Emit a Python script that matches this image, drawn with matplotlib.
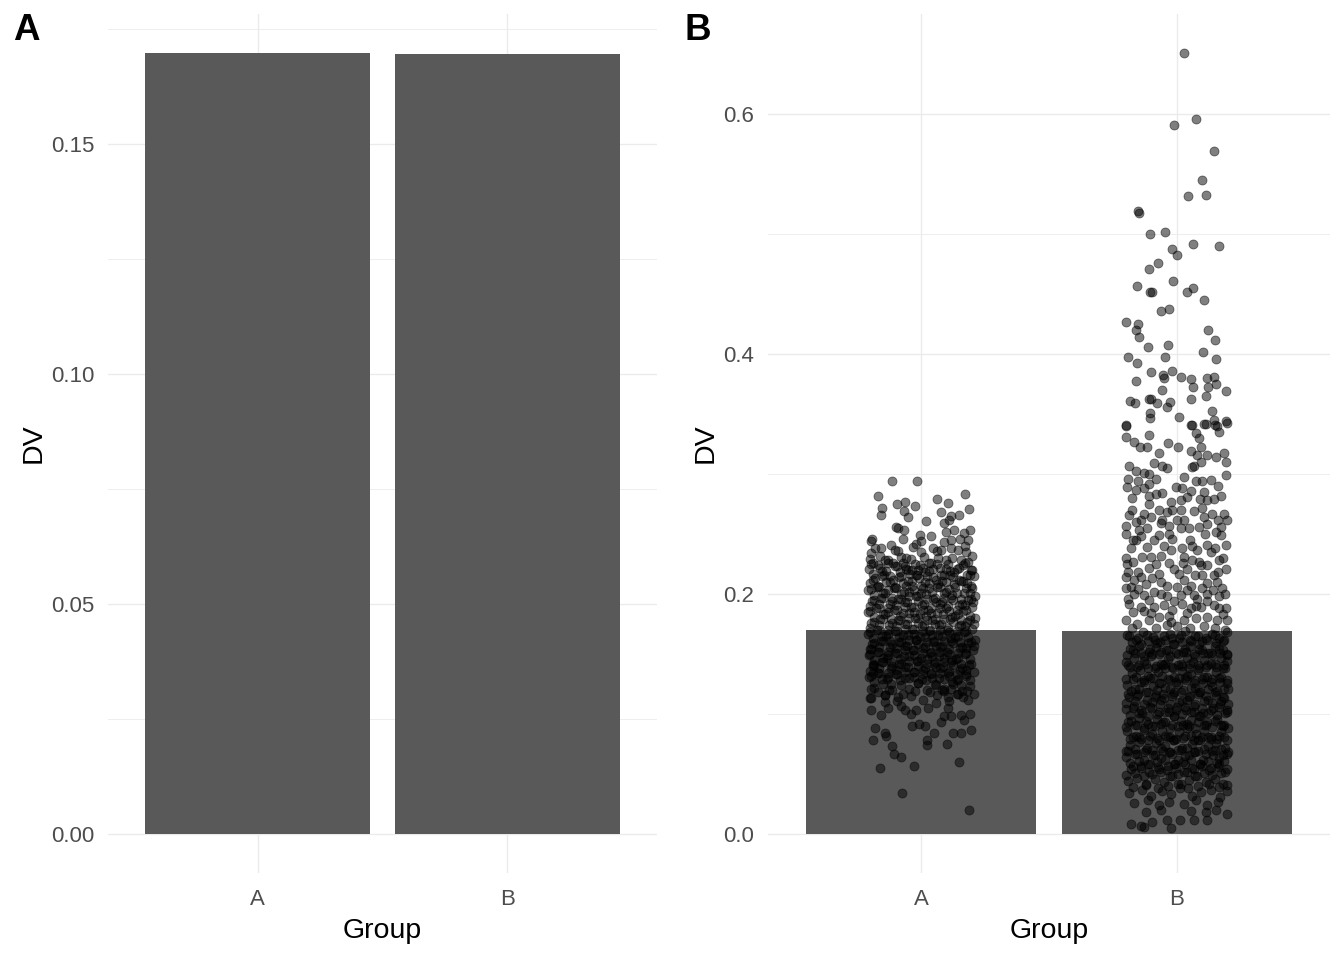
import matplotlib.pyplot as plt
import numpy as np

plt.rcParams['font.family'] = ['Liberation Sans', 'DejaVu Sans']

groups = ["A", "B"]
bar_means = [0.1698, 0.1696]

# jittered raw points, as (horizontal jitter, DV)
a_points = [
	# upper tail
	(-0.114, 0.294), (-0.017, 0.294), (-0.169, 0.282), (-0.154, 0.272), (-0.156, 0.266), (-0.095, 0.275),
	(-0.065, 0.277), (-0.069, 0.269), (-0.026, 0.273), (-0.052, 0.264), (0.062, 0.279), (0.104, 0.276),
	(0.173, 0.283), (0.185, 0.271), (0.146, 0.266), (0.078, 0.268), (0.117, 0.265), (0.107, 0.262),
	(0.091, 0.259), (0.098, 0.252), (0.019, 0.261), (-0.091, 0.255), (-0.069, 0.253), (-0.098, 0.256),
	(-0.193, 0.246), (-0.198, 0.244), (-0.072, 0.246), (-0.003, 0.249), (0.000, 0.244), (0.039, 0.248),
	(0.117, 0.245), (0.150, 0.246), (0.182, 0.245), (0.189, 0.253), (0.169, 0.251), (0.130, 0.253),
	(-0.182, 0.238), (-0.156, 0.238), (-0.117, 0.241), (-0.104, 0.237), (-0.078, 0.231), (-0.059, 0.230),
	(-0.033, 0.239), (0.000, 0.235), (0.046, 0.238), (0.078, 0.237), (0.117, 0.238), (0.143, 0.237),
	(0.176, 0.235), (-0.195, 0.234), (-0.189, 0.226), (-0.143, 0.228), (-0.111, 0.226), (-0.065, 0.223),
	(-0.013, 0.220), (0.032, 0.226), (0.065, 0.230), (0.098, 0.228), (0.156, 0.228), (0.195, 0.220),
	(0.182, 0.227), (-0.200, 0.229), (-0.160, 0.232), (-0.130, 0.228), (-0.090, 0.236), (-0.040, 0.229),
	(0.010, 0.231), (0.060, 0.236), (0.120, 0.230), (0.170, 0.240), (0.200, 0.232), (-0.020, 0.242),
	(0.090, 0.243),
	# dense core
	(-0.205, 0.221), (-0.170, 0.224), (-0.138, 0.219), (-0.101, 0.223), (-0.072, 0.226), (-0.035, 0.220),
	(-0.004, 0.224), (0.031, 0.219), (0.062, 0.225), (0.097, 0.221), (0.129, 0.218), (0.163, 0.224), (0.198, 0.220),
	(-0.196, 0.225), (-0.162, 0.222), (-0.129, 0.226), (-0.094, 0.223), (-0.060, 0.221), (-0.026, 0.225),
	(0.007, 0.222), (0.040, 0.226), (0.073, 0.222), (0.106, 0.225), (0.140, 0.221), (0.173, 0.226),
	(-0.188, 0.217), (-0.154, 0.219), (-0.121, 0.215), (-0.085, 0.218), (-0.052, 0.220), (-0.018, 0.216),
	(0.015, 0.218), (0.047, 0.221), (0.079, 0.216), (0.114, 0.219), (0.146, 0.222), (0.180, 0.216),
	(-0.182, 0.213), (-0.146, 0.216), (-0.112, 0.212), (-0.078, 0.215), (-0.044, 0.217), (-0.010, 0.213),
	(0.024, 0.215), (0.058, 0.212), (0.090, 0.216), (0.123, 0.214), (0.157, 0.211), (0.192, 0.216),
	(-0.190, 0.212), (-0.155, 0.215), (-0.121, 0.210), (-0.088, 0.214), (-0.052, 0.211), (-0.019, 0.216),
	(0.014, 0.210), (0.047, 0.214), (0.080, 0.211), (0.113, 0.216), (0.147, 0.212), (0.181, 0.209), (0.208, 0.215),
	(-0.199, 0.209), (-0.171, 0.207), (-0.137, 0.210), (-0.104, 0.206), (-0.070, 0.209), (-0.036, 0.211),
	(-0.001, 0.207), (0.031, 0.209), (0.063, 0.206), (0.096, 0.210), (0.130, 0.208), (0.164, 0.211), (0.196, 0.207),
	(-0.198, 0.204), (-0.164, 0.206), (-0.131, 0.203), (-0.097, 0.205), (-0.061, 0.207), (-0.028, 0.203),
	(0.006, 0.205), (0.041, 0.202), (0.074, 0.206), (0.107, 0.204), (0.141, 0.201), (0.176, 0.205),
	(-0.208, 0.203), (-0.173, 0.206), (-0.140, 0.201), (-0.106, 0.205), (-0.069, 0.202), (-0.037, 0.207),
	(-0.002, 0.201), (0.029, 0.205), (0.065, 0.208), (0.098, 0.202), (0.131, 0.206), (0.166, 0.201), (0.199, 0.205),
	(-0.183, 0.199), (-0.149, 0.201), (-0.116, 0.197), (-0.081, 0.200), (-0.047, 0.202), (-0.011, 0.198),
	(0.020, 0.200), (0.055, 0.197), (0.089, 0.201), (0.121, 0.199), (0.156, 0.196), (0.190, 0.201),
	(-0.184, 0.195), (-0.150, 0.197), (-0.114, 0.194), (-0.080, 0.196), (-0.046, 0.198), (-0.012, 0.194),
	(0.021, 0.196), (0.057, 0.193), (0.091, 0.197), (0.124, 0.195), (0.158, 0.192), (0.194, 0.196),
	(-0.193, 0.194), (-0.158, 0.197), (-0.123, 0.192), (-0.090, 0.196), (-0.055, 0.193), (-0.021, 0.198),
	(0.012, 0.192), (0.045, 0.196), (0.082, 0.193), (0.115, 0.197), (0.149, 0.191), (0.183, 0.195), (0.210, 0.198),
	(-0.201, 0.190), (-0.166, 0.192), (-0.132, 0.188), (-0.098, 0.191), (-0.064, 0.193), (-0.030, 0.189),
	(0.004, 0.191), (0.038, 0.188), (0.072, 0.192), (0.105, 0.190), (0.139, 0.187), (0.172, 0.191), (0.203, 0.193),
	(-0.200, 0.186), (-0.166, 0.188), (-0.131, 0.185), (-0.096, 0.187), (-0.062, 0.189), (-0.028, 0.185),
	(0.006, 0.187), (0.040, 0.184), (0.074, 0.188), (0.108, 0.186), (0.142, 0.183), (0.176, 0.187),
	(-0.210, 0.185), (-0.176, 0.188), (-0.141, 0.183), (-0.108, 0.187), (-0.073, 0.184), (-0.039, 0.189),
	(-0.006, 0.183), (0.027, 0.187), (0.063, 0.184), (0.096, 0.188), (0.133, 0.182), (0.165, 0.186), (0.197, 0.189),
	(-0.186, 0.181), (-0.151, 0.183), (-0.117, 0.179), (-0.083, 0.182), (-0.048, 0.184), (-0.014, 0.180),
	(0.019, 0.182), (0.053, 0.179), (0.087, 0.183), (0.121, 0.181), (0.156, 0.178), (0.189, 0.182),
	(-0.185, 0.177), (-0.150, 0.179), (-0.116, 0.176), (-0.082, 0.178), (-0.047, 0.180), (-0.013, 0.176),
	(0.021, 0.178), (0.055, 0.175), (0.089, 0.179), (0.123, 0.177), (0.157, 0.174), (0.192, 0.178),
	(-0.195, 0.176), (-0.160, 0.179), (-0.125, 0.174), (-0.092, 0.178), (-0.057, 0.175), (-0.023, 0.180),
	(0.010, 0.174), (0.043, 0.178), (0.079, 0.175), (0.112, 0.179), (0.148, 0.173), (0.181, 0.177), (0.211, 0.180),
	(-0.202, 0.172), (-0.167, 0.174), (-0.132, 0.170), (-0.099, 0.173), (-0.065, 0.175), (-0.030, 0.171),
	(0.003, 0.173), (0.036, 0.170), (0.071, 0.174), (0.104, 0.172), (0.139, 0.169), (0.173, 0.173), (0.205, 0.175),
	(-0.199, 0.168), (-0.164, 0.170), (-0.130, 0.167), (-0.096, 0.169), (-0.062, 0.171), (-0.027, 0.167),
	(0.007, 0.169), (0.041, 0.166), (0.075, 0.170), (0.109, 0.168), (0.143, 0.165), (0.176, 0.169),
	(-0.207, 0.167), (-0.174, 0.170), (-0.139, 0.165), (-0.104, 0.169), (-0.071, 0.166), (-0.037, 0.171),
	(-0.003, 0.165), (0.030, 0.169), (0.066, 0.166), (0.099, 0.170), (0.132, 0.164), (0.167, 0.168), (0.200, 0.171),
	(-0.189, 0.163), (-0.155, 0.165), (-0.121, 0.161), (-0.087, 0.164), (-0.053, 0.166), (-0.019, 0.162),
	(0.015, 0.164), (0.049, 0.161), (0.083, 0.165), (0.116, 0.163), (0.150, 0.160), (0.184, 0.164),
	(-0.184, 0.159), (-0.149, 0.161), (-0.115, 0.158), (-0.081, 0.160), (-0.046, 0.162), (-0.012, 0.158),
	(0.022, 0.160), (0.056, 0.157), (0.090, 0.161), (0.124, 0.159), (0.158, 0.156), (0.193, 0.160),
	(-0.192, 0.158), (-0.157, 0.161), (-0.122, 0.156), (-0.089, 0.160), (-0.054, 0.157), (-0.020, 0.162),
	(0.013, 0.156), (0.046, 0.160), (0.083, 0.157), (0.116, 0.161), (0.151, 0.155), (0.184, 0.159), (0.209, 0.162),
	(-0.199, 0.154), (-0.165, 0.156), (-0.131, 0.152), (-0.097, 0.155), (-0.062, 0.157), (-0.028, 0.153),
	(0.006, 0.155), (0.040, 0.152), (0.075, 0.156), (0.108, 0.154), (0.142, 0.151), (0.177, 0.155), (0.206, 0.157),
	(-0.199, 0.150), (-0.164, 0.152), (-0.130, 0.149), (-0.096, 0.151), (-0.062, 0.153), (-0.027, 0.149),
	(0.007, 0.151), (0.041, 0.148), (0.075, 0.152), (0.109, 0.150), (0.143, 0.147), (0.177, 0.151),
	(-0.206, 0.149), (-0.171, 0.152), (-0.136, 0.147), (-0.103, 0.151), (-0.068, 0.148), (-0.034, 0.153),
	(0.000, 0.147), (0.033, 0.151), (0.068, 0.148), (0.101, 0.152), (0.136, 0.146), (0.170, 0.150), (0.202, 0.153),
	(-0.185, 0.145), (-0.150, 0.147), (-0.117, 0.143), (-0.082, 0.146), (-0.047, 0.148), (-0.013, 0.144),
	(0.021, 0.146), (0.055, 0.143), (0.089, 0.147), (0.122, 0.145), (0.157, 0.142), (0.191, 0.146),
	(-0.184, 0.141), (-0.149, 0.143), (-0.115, 0.140), (-0.081, 0.142), (-0.046, 0.144), (-0.012, 0.140),
	(0.022, 0.142), (0.056, 0.139), (0.090, 0.143), (0.124, 0.141), (0.158, 0.138), (0.193, 0.142),
	(-0.190, 0.140), (-0.155, 0.143), (-0.120, 0.138), (-0.087, 0.142), (-0.051, 0.139), (-0.017, 0.144),
	(0.016, 0.138), (0.050, 0.142), (0.085, 0.139), (0.118, 0.143), (0.153, 0.137), (0.186, 0.141),
	(-0.200, 0.136), (-0.166, 0.138), (-0.132, 0.134), (-0.097, 0.137), (-0.063, 0.139), (-0.029, 0.135),
	(0.005, 0.137), (0.040, 0.134), (0.073, 0.138), (0.107, 0.136), (0.141, 0.133), (0.175, 0.137),
	(-0.198, 0.132), (-0.164, 0.134), (-0.130, 0.131), (-0.096, 0.133), (-0.062, 0.135), (-0.027, 0.131),
	(0.007, 0.133), (0.041, 0.130), (0.075, 0.134), (0.109, 0.132), (0.143, 0.129), (0.177, 0.133),
	(-0.204, 0.131), (-0.168, 0.134), (-0.133, 0.129), (-0.099, 0.133), (-0.064, 0.130), (-0.030, 0.135),
	(0.004, 0.129), (0.037, 0.133), (0.071, 0.130), (0.105, 0.134), (0.139, 0.128), (0.174, 0.132), (0.205, 0.135),
	(-0.186, 0.127), (-0.152, 0.129), (-0.117, 0.125), (-0.083, 0.128), (-0.048, 0.130), (-0.014, 0.126),
	(0.020, 0.128), (0.054, 0.125), (0.088, 0.129), (0.121, 0.127), (0.155, 0.124), (0.190, 0.128),
	(-0.186, 0.122), (-0.150, 0.125), (-0.116, 0.120), (-0.081, 0.124), (-0.046, 0.121), (-0.012, 0.126),
	(0.022, 0.120), (0.056, 0.124), (0.090, 0.121), (0.124, 0.125), (0.158, 0.119), (0.190, 0.123),
	(-0.170, 0.118), (-0.125, 0.120), (-0.070, 0.117), (-0.025, 0.119), (0.035, 0.118), (0.080, 0.120),
	(0.140, 0.117), (0.180, 0.119),
	(-0.200, 0.113), (-0.140, 0.116), (-0.095, 0.111), (-0.040, 0.115), (0.005, 0.112), (0.060, 0.116),
	(0.110, 0.111), (0.165, 0.114), (0.205, 0.117),
	# lower tail
	(-0.195, 0.154), (-0.189, 0.142), (-0.189, 0.134), (-0.195, 0.121), (-0.195, 0.113), (-0.198, 0.103),
	(-0.156, 0.099), (-0.130, 0.105), (-0.143, 0.110), (-0.078, 0.107), (-0.039, 0.100), (-0.019, 0.103),
	(0.026, 0.105), (0.059, 0.109), (0.104, 0.105), (0.091, 0.098), (0.117, 0.098), (0.078, 0.093),
	(0.156, 0.099), (0.189, 0.100), (0.182, 0.112), (0.195, 0.087), (0.169, 0.095), (0.156, 0.084),
	(0.124, 0.084), (-0.036, 0.090), (-0.007, 0.092), (0.013, 0.090), (0.049, 0.084), (0.023, 0.078),
	(0.023, 0.074), (0.100, 0.075), (-0.180, 0.088), (-0.143, 0.084), (-0.139, 0.082), (-0.189, 0.078),
	(-0.115, 0.073), (-0.107, 0.067), (-0.078, 0.064), (-0.160, 0.055), (-0.029, 0.057), (0.146, 0.060),
	(-0.075, 0.034), (0.186, 0.020), (-0.143, 0.116), (-0.091, 0.114), (-0.065, 0.103), (0.143, 0.117),
	(0.104, 0.114), (0.117, 0.121), (0.091, 0.119),
]

b_points = [
	# upper tail
	(0.030, 0.651), (0.077, 0.596), (-0.009, 0.591), (0.147, 0.569), (0.100, 0.545), (0.046, 0.532),
	(0.116, 0.533), (-0.151, 0.519), (-0.149, 0.518), (-0.103, 0.500), (-0.044, 0.502),
	(0.065, 0.492), (0.167, 0.490), (-0.018, 0.488), (0.000, 0.483), (-0.075, 0.476), (-0.107, 0.471),
	(-0.013, 0.461), (-0.154, 0.457), (-0.105, 0.452), (-0.095, 0.452), (0.065, 0.455), (0.042, 0.452),
	(0.108, 0.445), (-0.061, 0.436), (-0.029, 0.438), (-0.200, 0.427), (-0.150, 0.425), (-0.161, 0.420),
	(-0.148, 0.414), (0.122, 0.420), (0.150, 0.412), (-0.111, 0.406), (-0.036, 0.408), (0.104, 0.402),
	(-0.189, 0.398), (-0.044, 0.398), (0.154, 0.396), (-0.154, 0.393), (-0.099, 0.385), (-0.052, 0.383),
	(-0.048, 0.380), (-0.017, 0.386), (0.018, 0.381), (0.055, 0.379), (0.063, 0.373), (0.117, 0.380),
	(0.145, 0.381), (0.152, 0.375), (0.124, 0.373), (0.194, 0.369), (-0.161, 0.378), (-0.056, 0.370),
	(-0.108, 0.363), (-0.099, 0.363), (-0.182, 0.361), (-0.163, 0.359), (-0.078, 0.359), (-0.027, 0.360),
	(-0.040, 0.356), (0.057, 0.363), (0.115, 0.365), (0.139, 0.353), (-0.103, 0.351), (-0.103, 0.347),
	(0.007, 0.348), (-0.197, 0.340), (0.060, 0.341), (0.108, 0.342), (0.145, 0.345), (0.156, 0.340),
	(0.194, 0.344),
	# middle
	(-0.199, 0.341), (-0.199, 0.331), (-0.169, 0.327), (-0.143, 0.323), (-0.108, 0.333), (-0.115, 0.323),
	(-0.033, 0.326), (0.005, 0.323), (0.057, 0.341), (0.074, 0.334), (0.087, 0.330), (0.096, 0.323),
	(0.113, 0.342), (0.150, 0.341), (0.165, 0.335), (0.195, 0.343), (-0.069, 0.318), (0.055, 0.319),
	(0.081, 0.316), (0.120, 0.316), (0.152, 0.314), (0.185, 0.318), (0.191, 0.310), (-0.186, 0.307),
	(-0.160, 0.303), (-0.130, 0.301), (-0.108, 0.300), (-0.089, 0.309), (-0.056, 0.307), (-0.037, 0.305),
	(0.068, 0.307), (0.094, 0.310), (0.061, 0.306), (0.191, 0.299), (-0.193, 0.289), (-0.160, 0.287),
	(-0.128, 0.288), (-0.108, 0.292), (-0.108, 0.282), (-0.056, 0.284), (-0.004, 0.289), (0.022, 0.288),
	(0.055, 0.286), (0.074, 0.294), (0.100, 0.294), (0.133, 0.295), (0.107, 0.285), (0.120, 0.278),
	(0.146, 0.279), (-0.024, 0.277), (0.015, 0.278), (-0.108, 0.275), (-0.177, 0.270), (-0.199, 0.257),
	(-0.160, 0.260), (-0.147, 0.253), (-0.128, 0.267), (-0.069, 0.270), (-0.056, 0.262), (-0.017, 0.270),
	(0.015, 0.270), (0.068, 0.269), (0.107, 0.264), (0.139, 0.267), (0.185, 0.267), (0.195, 0.262),
	(-0.030, 0.257), (0.015, 0.255), (0.048, 0.255), (0.087, 0.256), (0.152, 0.252), (-0.063, 0.259),
	(-0.115, 0.255), (-0.199, 0.250), (-0.160, 0.245), (-0.115, 0.239), (-0.089, 0.245), (-0.069, 0.249),
	(-0.102, 0.231), (-0.082, 0.225), (-0.024, 0.237), (0.022, 0.238), (0.029, 0.231), (0.081, 0.237),
	(0.120, 0.241), (0.133, 0.235), (0.172, 0.249), (0.191, 0.241), (-0.199, 0.230), (-0.193, 0.225),
	(-0.134, 0.231), (0.087, 0.227), (-0.011, 0.221), (0.042, 0.221), (0.009, 0.217), (0.094, 0.224),
	(0.100, 0.216), (0.146, 0.216), (0.191, 0.221), (-0.199, 0.214), (-0.167, 0.212), (-0.141, 0.214),
	(-0.095, 0.213), (-0.063, 0.210), (-0.037, 0.207), (0.002, 0.206), (0.055, 0.207), (0.120, 0.209),
	(0.159, 0.210), (0.178, 0.205), (-0.180, 0.206), (-0.199, 0.205), (-0.167, 0.200), (-0.128, 0.199),
	(-0.089, 0.202), (-0.037, 0.198), (0.015, 0.199), (0.068, 0.199), (0.120, 0.200), (0.165, 0.198),
	(-0.186, 0.192), (-0.141, 0.189), (-0.089, 0.189), (-0.050, 0.191), (-0.017, 0.187), (0.022, 0.192),
	(0.055, 0.188), (0.094, 0.189), (0.146, 0.191), (0.191, 0.188), (-0.199, 0.178), (-0.154, 0.175),
	(-0.108, 0.178), (-0.069, 0.181), (-0.024, 0.177), (0.029, 0.178), (0.074, 0.180), (0.120, 0.181),
	(0.159, 0.178), (0.198, 0.178), (-0.170, 0.245), (-0.140, 0.262), (0.050, 0.245), (0.120, 0.258),
	(-0.020, 0.246), (0.165, 0.228), (-0.060, 0.232), (0.060, 0.228), (-0.150, 0.218), (0.030, 0.212),
	(0.140, 0.203), (-0.110, 0.195), (0.080, 0.196), (-0.010, 0.194), (-0.170, 0.185), (0.180, 0.183),
	(0.040, 0.184), (-0.080, 0.172), (0.105, 0.173), (0.000, 0.173),
	(-0.190, 0.296), (-0.150, 0.294), (-0.080, 0.296), (0.030, 0.298), (0.160, 0.290), (-0.175, 0.280),
	(-0.080, 0.283), (0.040, 0.281), (0.090, 0.279), (0.175, 0.282), (-0.185, 0.266), (-0.100, 0.264),
	(-0.040, 0.268), (0.030, 0.262), (0.100, 0.272), (0.160, 0.262), (-0.140, 0.248), (-0.030, 0.250),
	(0.000, 0.262), (0.110, 0.250), (0.175, 0.256), (-0.180, 0.238), (-0.050, 0.240), (0.060, 0.240),
	(0.150, 0.238), (-0.170, 0.227), (-0.110, 0.222), (-0.030, 0.226), (0.025, 0.226), (0.120, 0.224),
	(0.180, 0.230), (-0.190, 0.218), (-0.120, 0.208), (-0.070, 0.217), (0.070, 0.216), (0.160, 0.218),
	(-0.150, 0.204), (-0.060, 0.200), (0.040, 0.203), (0.100, 0.205), (0.190, 0.200), (-0.190, 0.196),
	(-0.130, 0.186), (-0.030, 0.182), (0.075, 0.190), (0.120, 0.194), (0.165, 0.188), (-0.100, 0.184),
	(-0.175, 0.172), (0.050, 0.172), (0.150, 0.172), (-0.040, 0.174), (0.190, 0.170),
	# dense part over the bar
	(-0.195, 0.166), (-0.158, 0.162), (-0.131, 0.168), (-0.092, 0.164), (-0.066, 0.160), (-0.027, 0.167),
	(0.008, 0.163), (0.031, 0.169), (0.073, 0.165), (0.098, 0.161), (0.139, 0.167), (0.165, 0.163), (0.197, 0.168),
	(-0.188, 0.165), (-0.152, 0.163), (-0.118, 0.166), (-0.085, 0.162), (-0.051, 0.165), (-0.017, 0.163),
	(0.016, 0.166), (0.050, 0.162), (0.083, 0.165), (0.116, 0.163), (0.150, 0.166), (0.185, 0.162),
	(-0.177, 0.160), (-0.141, 0.158), (-0.111, 0.161), (-0.079, 0.159), (-0.046, 0.162), (-0.009, 0.158),
	(0.020, 0.160), (0.055, 0.161), (0.086, 0.158), (0.118, 0.162), (0.152, 0.159), (0.181, 0.161),
	(-0.183, 0.154), (-0.148, 0.157), (-0.109, 0.152), (-0.081, 0.156), (-0.041, 0.153), (-0.016, 0.158),
	(0.024, 0.152), (0.050, 0.157), (0.089, 0.154), (0.121, 0.151), (0.150, 0.157), (0.183, 0.153),
	(-0.172, 0.153), (-0.139, 0.151), (-0.104, 0.154), (-0.070, 0.150), (-0.036, 0.153), (-0.003, 0.151),
	(0.032, 0.154), (0.066, 0.150), (0.099, 0.153), (0.133, 0.151), (0.166, 0.154), (0.196, 0.150),
	(-0.196, 0.149), (-0.163, 0.151), (-0.128, 0.148), (-0.095, 0.150), (-0.063, 0.152), (-0.027, 0.148),
	(0.006, 0.150), (0.037, 0.152), (0.071, 0.148), (0.104, 0.151), (0.138, 0.149), (0.168, 0.151), (0.198, 0.149),
	(-0.199, 0.143), (-0.166, 0.147), (-0.127, 0.144), (-0.099, 0.148), (-0.060, 0.142), (-0.034, 0.146),
	(0.004, 0.141), (0.039, 0.147), (0.065, 0.143), (0.106, 0.145), (0.133, 0.142), (0.172, 0.147), (0.198, 0.144),
	(-0.190, 0.141), (-0.155, 0.139), (-0.121, 0.142), (-0.087, 0.138), (-0.053, 0.141), (-0.019, 0.139),
	(0.015, 0.142), (0.049, 0.138), (0.082, 0.141), (0.116, 0.139), (0.150, 0.142), (0.183, 0.138),
	(-0.183, 0.139), (-0.147, 0.141), (-0.112, 0.138), (-0.080, 0.140), (-0.045, 0.142), (-0.014, 0.138),
	(0.022, 0.140), (0.051, 0.142), (0.087, 0.138), (0.120, 0.141), (0.154, 0.139), (0.186, 0.141),
	(-0.176, 0.134), (-0.143, 0.137), (-0.113, 0.132), (-0.075, 0.135), (-0.047, 0.138), (-0.010, 0.131),
	(0.019, 0.136), (0.057, 0.133), (0.084, 0.137), (0.119, 0.131), (0.155, 0.135), (0.188, 0.138),
	(-0.172, 0.129), (-0.138, 0.127), (-0.104, 0.130), (-0.070, 0.126), (-0.036, 0.129), (-0.002, 0.127),
	(0.032, 0.130), (0.066, 0.126), (0.099, 0.129), (0.133, 0.127), (0.166, 0.130), (0.196, 0.126),
	(-0.198, 0.129), (-0.160, 0.131), (-0.127, 0.128), (-0.093, 0.130), (-0.059, 0.132), (-0.026, 0.128),
	(0.007, 0.130), (0.041, 0.132), (0.073, 0.128), (0.107, 0.131), (0.139, 0.129), (0.172, 0.131), (0.198, 0.128),
	(-0.196, 0.124), (-0.162, 0.121), (-0.130, 0.127), (-0.094, 0.123), (-0.063, 0.126), (-0.028, 0.121),
	(0.006, 0.125), (0.035, 0.128), (0.071, 0.122), (0.103, 0.126), (0.137, 0.123), (0.170, 0.127), (0.199, 0.121),
	(-0.180, 0.119), (-0.146, 0.121), (-0.112, 0.118), (-0.078, 0.120), (-0.044, 0.122), (-0.011, 0.118),
	(0.023, 0.120), (0.056, 0.122), (0.090, 0.118), (0.122, 0.121), (0.156, 0.119), (0.186, 0.121),
	(-0.190, 0.117), (-0.155, 0.115), (-0.121, 0.118), (-0.087, 0.114), (-0.053, 0.117), (-0.019, 0.115),
	(0.015, 0.118), (0.049, 0.114), (0.082, 0.117), (0.116, 0.115), (0.150, 0.118), (0.183, 0.114),
	(-0.185, 0.114), (-0.150, 0.117), (-0.116, 0.112), (-0.083, 0.116), (-0.049, 0.113), (-0.014, 0.117),
	(0.021, 0.111), (0.052, 0.115), (0.088, 0.118), (0.122, 0.112), (0.153, 0.116), (0.186, 0.113),
	(-0.197, 0.109), (-0.163, 0.111), (-0.129, 0.108), (-0.095, 0.110), (-0.061, 0.112), (-0.027, 0.108),
	(0.007, 0.110), (0.040, 0.112), (0.072, 0.108), (0.106, 0.111), (0.139, 0.109), (0.172, 0.111), (0.199, 0.108),
	(-0.172, 0.105), (-0.138, 0.103), (-0.104, 0.106), (-0.070, 0.102), (-0.036, 0.105), (-0.002, 0.103),
	(0.032, 0.106), (0.066, 0.102), (0.099, 0.105), (0.133, 0.103), (0.166, 0.106), (0.196, 0.102),
	(-0.200, 0.104), (-0.167, 0.107), (-0.134, 0.101), (-0.098, 0.105), (-0.067, 0.108), (-0.031, 0.102),
	(0.002, 0.106), (0.038, 0.103), (0.068, 0.107), (0.101, 0.101), (0.140, 0.105), (0.168, 0.108), (0.196, 0.103),
	(-0.181, 0.099), (-0.147, 0.101), (-0.113, 0.098), (-0.079, 0.100), (-0.046, 0.102), (-0.012, 0.098),
	(0.022, 0.100), (0.056, 0.102), (0.089, 0.098), (0.122, 0.101), (0.156, 0.099), (0.187, 0.101),
	(-0.178, 0.094), (-0.146, 0.097), (-0.111, 0.092), (-0.079, 0.096), (-0.044, 0.093), (-0.012, 0.098),
	(0.025, 0.091), (0.054, 0.095), (0.091, 0.098), (0.117, 0.093), (0.157, 0.096), (0.185, 0.091),
	(-0.190, 0.093), (-0.155, 0.091), (-0.121, 0.094), (-0.087, 0.090), (-0.053, 0.093), (-0.019, 0.091),
	(0.015, 0.094), (0.049, 0.090), (0.082, 0.093), (0.116, 0.091), (0.150, 0.094), (0.183, 0.090),
	(-0.198, 0.089), (-0.163, 0.091), (-0.129, 0.088), (-0.095, 0.090), (-0.061, 0.092), (-0.027, 0.088),
	(0.006, 0.090), (0.040, 0.092), (0.073, 0.088), (0.106, 0.091), (0.139, 0.089), (0.172, 0.091),
	(-0.194, 0.086), (-0.161, 0.082), (-0.127, 0.087), (-0.096, 0.083), (-0.058, 0.086), (-0.026, 0.081),
	(0.009, 0.085), (0.041, 0.088), (0.074, 0.083), (0.108, 0.086), (0.136, 0.081), (0.174, 0.085), (0.199, 0.088),
	(-0.172, 0.081), (-0.138, 0.079), (-0.104, 0.082), (-0.070, 0.078), (-0.036, 0.081), (-0.002, 0.079),
	(0.032, 0.082), (0.066, 0.078), (0.099, 0.081), (0.133, 0.079), (0.166, 0.082), (0.196, 0.078),
	(-0.181, 0.079), (-0.146, 0.081), (-0.112, 0.078), (-0.078, 0.080), (-0.044, 0.082), (-0.011, 0.078),
	(0.023, 0.080), (0.057, 0.082), (0.090, 0.078), (0.123, 0.081), (0.157, 0.079), (0.186, 0.081),
	(-0.183, 0.074), (-0.147, 0.077), (-0.118, 0.072), (-0.082, 0.076), (-0.046, 0.073), (-0.016, 0.078),
	(0.019, 0.072), (0.058, 0.075), (0.085, 0.078), (0.124, 0.073), (0.152, 0.076), (0.190, 0.072),
	(-0.190, 0.069), (-0.155, 0.067), (-0.121, 0.070), (-0.087, 0.066), (-0.053, 0.069), (-0.019, 0.067),
	(0.015, 0.070), (0.049, 0.066), (0.082, 0.069), (0.116, 0.067), (0.150, 0.070), (0.183, 0.066),
	(-0.198, 0.069), (-0.163, 0.071), (-0.129, 0.068), (-0.095, 0.070), (-0.061, 0.072), (-0.027, 0.068),
	(0.006, 0.070), (0.040, 0.072), (0.073, 0.068), (0.106, 0.071), (0.139, 0.069), (0.172, 0.071), (0.199, 0.068),
	(-0.197, 0.064), (-0.165, 0.067), (-0.129, 0.062), (-0.093, 0.066), (-0.062, 0.063), (-0.029, 0.068),
	(0.005, 0.062), (0.034, 0.065), (0.069, 0.068), (0.102, 0.062), (0.141, 0.066), (0.167, 0.063), (0.195, 0.067),
	(-0.182, 0.059), (-0.147, 0.061), (-0.112, 0.058), (-0.078, 0.060), (-0.044, 0.062), (-0.011, 0.058),
	(0.023, 0.060), (0.057, 0.062), (0.090, 0.058), (0.123, 0.061), (0.157, 0.059), (0.186, 0.061),
	(-0.172, 0.057), (-0.138, 0.055), (-0.104, 0.058), (-0.070, 0.054), (-0.036, 0.057), (-0.002, 0.055),
	(0.032, 0.058), (0.066, 0.054), (0.099, 0.057), (0.133, 0.055), (0.166, 0.058), (0.196, 0.054),
	(-0.179, 0.054), (-0.140, 0.057), (-0.108, 0.052), (-0.075, 0.056), (-0.040, 0.053), (-0.006, 0.058),
	(0.028, 0.052), (0.061, 0.055), (0.093, 0.058), (0.127, 0.053), (0.160, 0.056), (0.187, 0.052),
	(-0.198, 0.049), (-0.163, 0.051), (-0.129, 0.048), (-0.095, 0.050), (-0.061, 0.052), (-0.027, 0.048),
	(0.006, 0.050), (0.040, 0.052), (0.073, 0.048), (0.106, 0.051), (0.139, 0.049), (0.172, 0.051),
	(-0.192, 0.044), (-0.155, 0.047), (-0.121, 0.042), (-0.086, 0.046), (-0.050, 0.043), (-0.018, 0.048),
	(0.016, 0.042), (0.048, 0.045), (0.081, 0.048), (0.115, 0.043), (0.149, 0.046), (0.181, 0.042),
	(-0.170, 0.039), (-0.120, 0.041), (-0.075, 0.038), (-0.035, 0.040), (0.005, 0.042), (0.045, 0.038),
	(0.085, 0.040), (0.125, 0.042), (0.165, 0.039), (0.195, 0.041),
	(-0.185, 0.034), (-0.137, 0.037), (-0.101, 0.032), (-0.059, 0.036), (-0.021, 0.033), (0.012, 0.038),
	(0.058, 0.032), (0.096, 0.035), (0.133, 0.037), (0.170, 0.031), (0.195, 0.036),
	(-0.168, 0.026), (-0.114, 0.028), (-0.070, 0.024), (-0.030, 0.027), (0.030, 0.025), (0.077, 0.028),
	(0.118, 0.024), (0.160, 0.027),
	# bottom
	(-0.180, 0.008), (-0.141, 0.007), (-0.128, 0.006), (-0.095, 0.010), (-0.037, 0.012), (-0.024, 0.005),
	(0.012, 0.012), (0.068, 0.012), (0.120, 0.012), (0.195, 0.017), (0.152, 0.020), (0.057, 0.019),
	(-0.121, 0.018), (-0.063, 0.020), (0.113, 0.018),
]

a_ticks = [0.00, 0.05, 0.10, 0.15]
a_tick_labels = ["0.00", "0.05", "0.10", "0.15"]
b_ticks = [0.0, 0.2, 0.4, 0.6]
b_tick_labels = ["0.0", "0.2", "0.4", "0.6"]


def style_axes(ax, ticks, labels, minor, ylim):
	ax.set_xlim(-0.6, 1.6)
	ax.set_ylim(*ylim)
	ax.set_xticks([0, 1], groups)
	ax.set_yticks(ticks, labels)
	ax.set_yticks(minor, minor=True)
	ax.grid(True, which='major', color='#EBEBEB', linewidth=1.0)
	ax.grid(True, which='minor', axis='y', color='#EBEBEB', linewidth=0.6)
	ax.set_axisbelow(True)
	for s in ax.spines.values():
		s.set_visible(False)
	ax.tick_params(which='both', length=0, labelsize=16, labelcolor='#4D4D4D')
	ax.tick_params(axis='y', pad=10)
	ax.tick_params(axis='x', pad=11.5)
	ax.set_xlabel("Group", fontsize=20.5, labelpad=6)
	ax.set_ylabel("DV", fontsize=20.5, labelpad=3)


def main():
	fig = plt.figure(figsize=(13.44, 9.6), dpi=100)
	x = np.arange(len(groups))

	ax1 = fig.add_axes([0.0804, 0.0906, 0.4085, 0.8948])
	ax1.bar(x, bar_means, width=0.9, color='#595959', zorder=2)
	style_axes(ax1, a_ticks, a_tick_labels, [0.025, 0.075, 0.125, 0.175], (-0.0085, 0.1783))

	ax2 = fig.add_axes([0.5714, 0.0906, 0.4182, 0.8948])
	ax2.bar(x, bar_means, width=0.9, color='#595959', zorder=2)
	for i, pts in enumerate([a_points, b_points]):
		pts = np.array(pts)
		ax2.scatter(i + pts[:, 0], pts[:, 1], s=42, c='black', alpha=0.5,
			edgecolors='black', linewidths=0.6, zorder=3)
	style_axes(ax2, b_ticks, b_tick_labels, [0.1, 0.3, 0.5], (-0.0326, 0.6836))

	fig.text(26 / 1344, 1 - 30 / 960, "A", fontsize=26.5, fontweight='bold', ha='center', va='center')
	fig.text(698 / 1344, 1 - 30 / 960, "B", fontsize=26.5, fontweight='bold', ha='center', va='center')

	fig.savefig("out.png", dpi=100)


if __name__ == "__main__":
	main()
